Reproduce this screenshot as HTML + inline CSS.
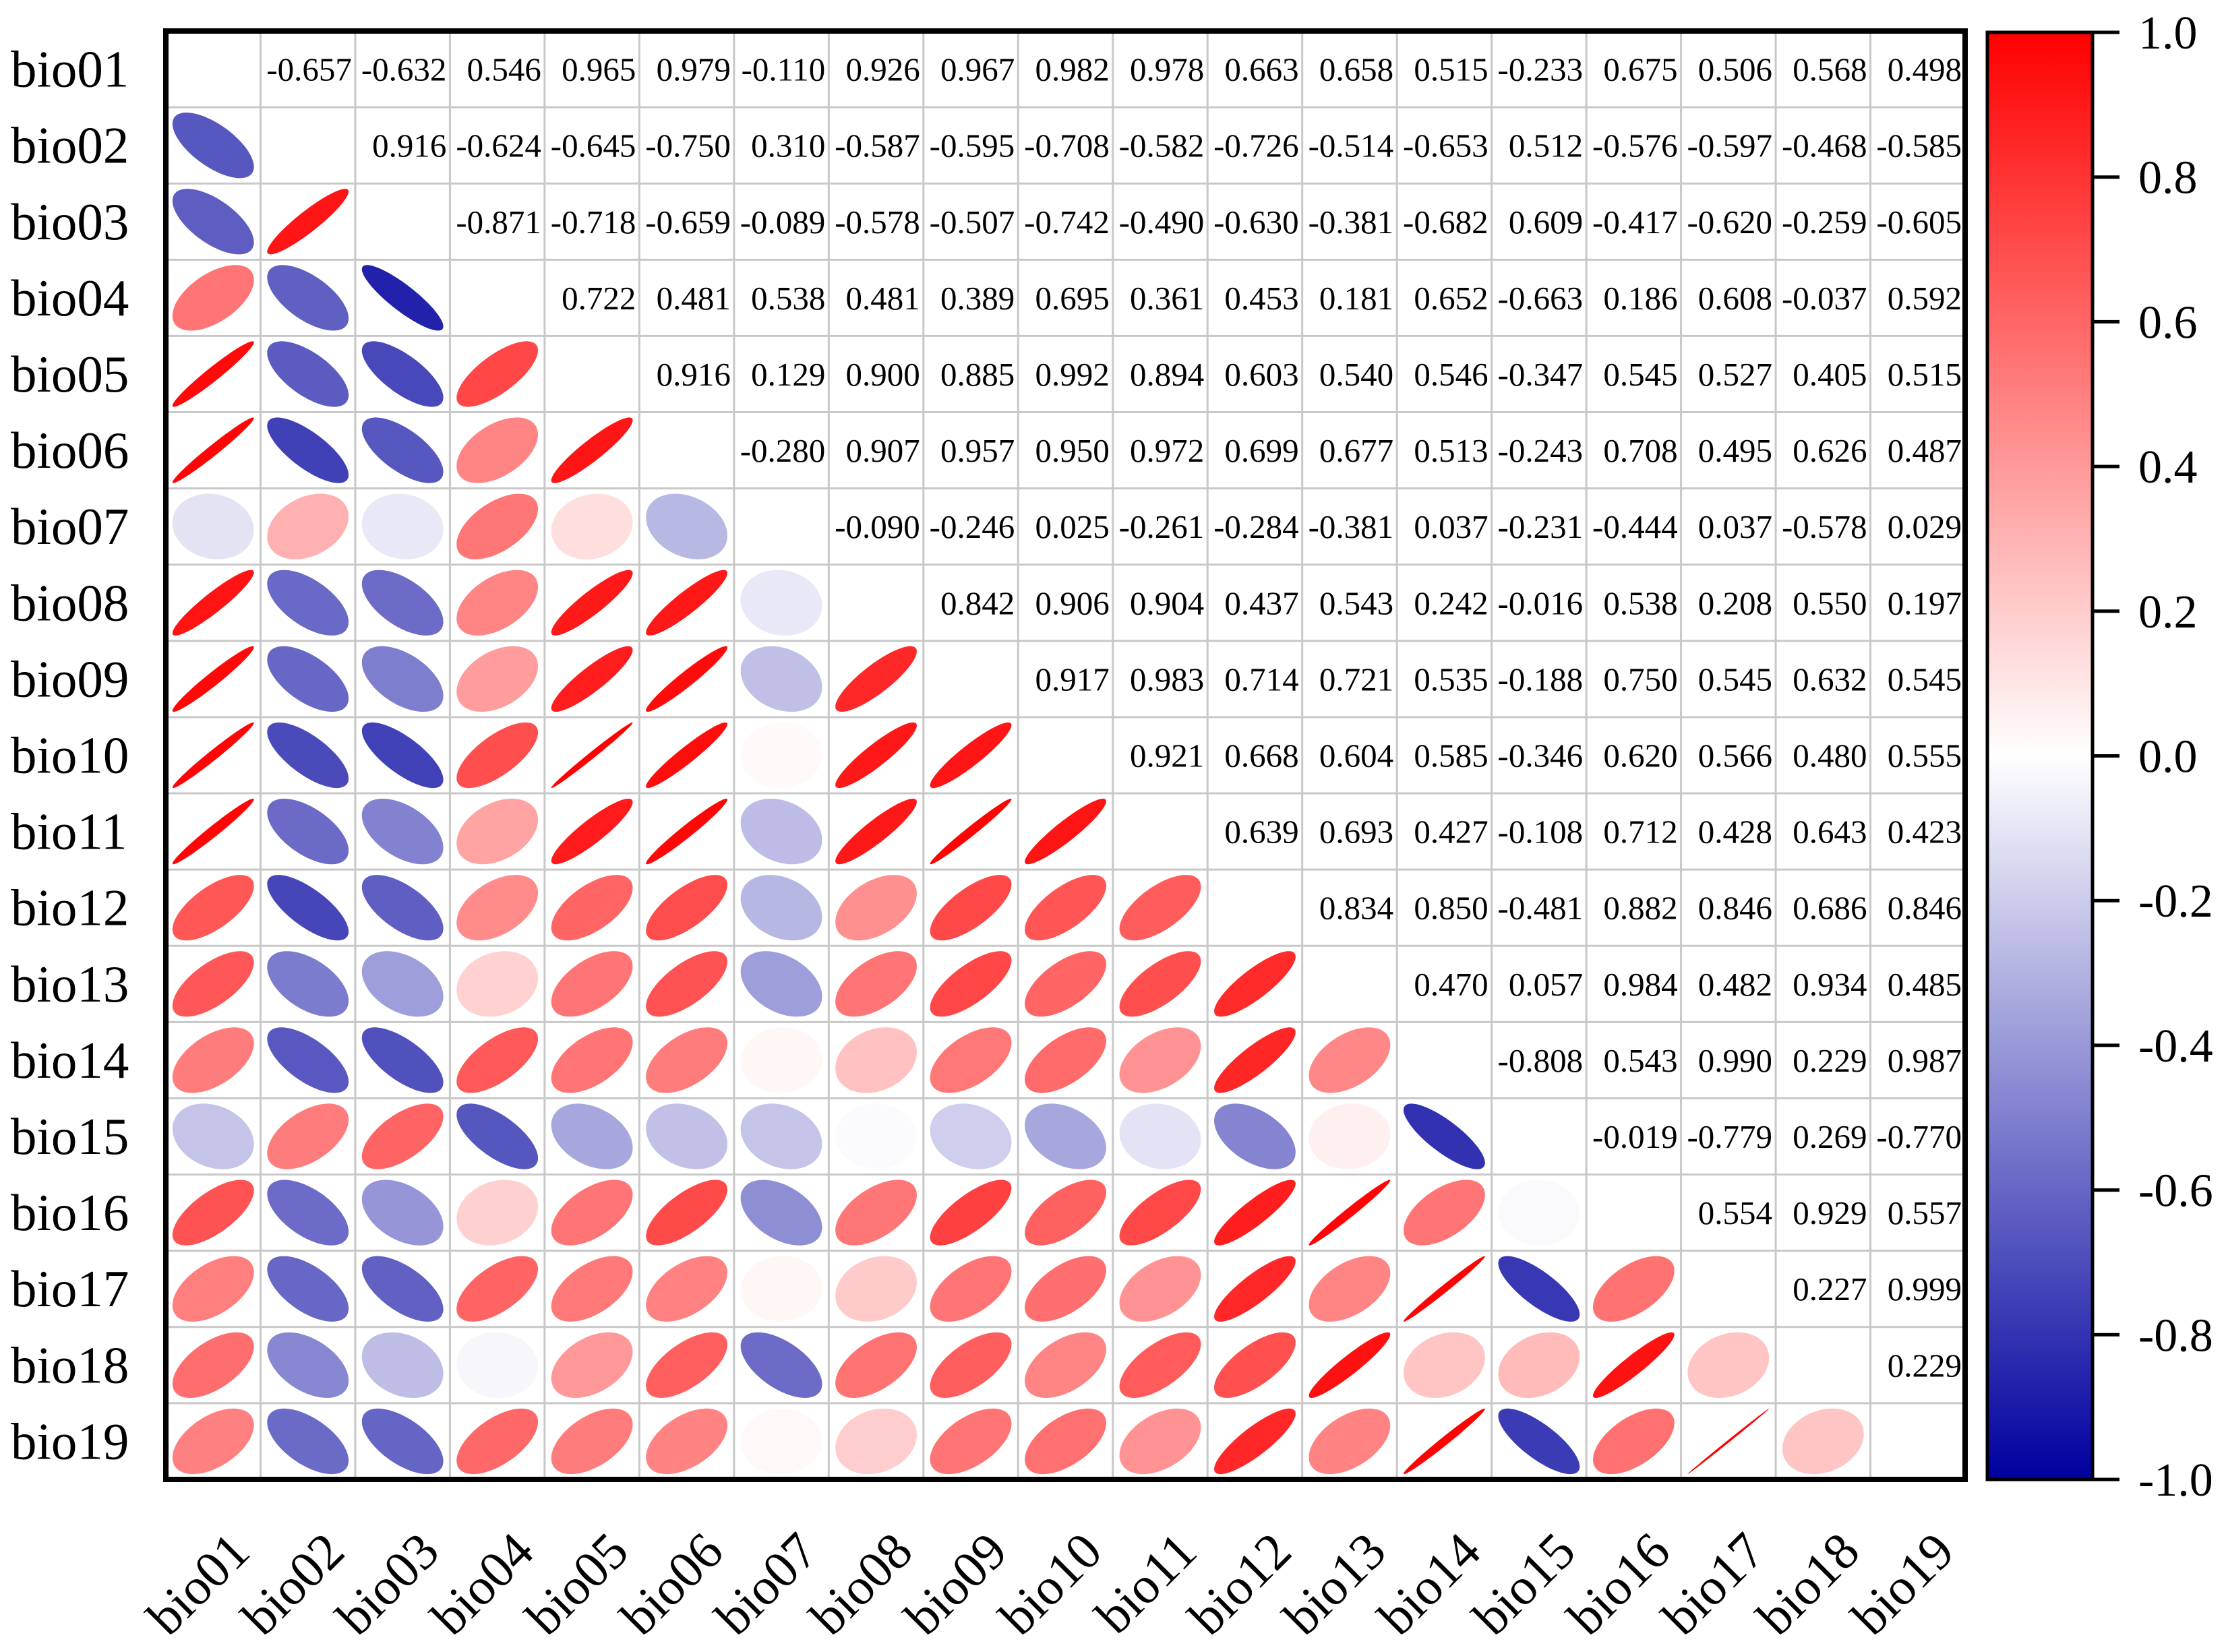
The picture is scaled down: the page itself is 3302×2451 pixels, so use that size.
<!DOCTYPE html>
<html><head><meta charset="utf-8">
<style>
html,body{margin:0;padding:0;background:#fff;}
svg{display:block;}
text{font-family:"Liberation Serif",serif;fill:#000;}
</style></head>
<body>
<svg id="chart" width="3302" height="2451" viewBox="0 0 3302 2451" xmlns="http://www.w3.org/2000/svg">
<defs>
<linearGradient id="cbgrad" x1="0" y1="0" x2="0" y2="1">
<stop offset="0" stop-color="#ff0000"/>
<stop offset="0.5" stop-color="#ffffff"/>
<stop offset="1" stop-color="#00009f"/>
</linearGradient>
</defs>
<g id="grid"></g>
<g id="marks"></g>
<g id="vals"></g>
<rect x="246" y="46" width="2669" height="2149" fill="none" stroke="#000" stroke-width="8"/>
<g id="rowlabels"></g>
<g id="collabels"></g>
<rect x="2948" y="48" width="156" height="2147" fill="url(#cbgrad)" stroke="#000" stroke-width="5"/>
<g id="cbticks"></g>
</svg>
<script>
const labels = ["bio01","bio02","bio03","bio04","bio05","bio06","bio07","bio08","bio09","bio10","bio11","bio12","bio13","bio14","bio15","bio16","bio17","bio18","bio19"];
const upper = [
[-0.657,-0.632,0.546,0.965,0.979,-0.110,0.926,0.967,0.982,0.978,0.663,0.658,0.515,-0.233,0.675,0.506,0.568,0.498],
[0.916,-0.624,-0.645,-0.750,0.310,-0.587,-0.595,-0.708,-0.582,-0.726,-0.514,-0.653,0.512,-0.576,-0.597,-0.468,-0.585],
[-0.871,-0.718,-0.659,-0.089,-0.578,-0.507,-0.742,-0.490,-0.630,-0.381,-0.682,0.609,-0.417,-0.620,-0.259,-0.605],
[0.722,0.481,0.538,0.481,0.389,0.695,0.361,0.453,0.181,0.652,-0.663,0.186,0.608,-0.037,0.592],
[0.916,0.129,0.900,0.885,0.992,0.894,0.603,0.540,0.546,-0.347,0.545,0.527,0.405,0.515],
[-0.280,0.907,0.957,0.950,0.972,0.699,0.677,0.513,-0.243,0.708,0.495,0.626,0.487],
[-0.090,-0.246,0.025,-0.261,-0.284,-0.381,0.037,-0.231,-0.444,0.037,-0.578,0.029],
[0.842,0.906,0.904,0.437,0.543,0.242,-0.016,0.538,0.208,0.550,0.197],
[0.917,0.983,0.714,0.721,0.535,-0.188,0.750,0.545,0.632,0.545],
[0.921,0.668,0.604,0.585,-0.346,0.620,0.566,0.480,0.555],
[0.639,0.693,0.427,-0.108,0.712,0.428,0.643,0.423],
[0.834,0.850,-0.481,0.882,0.846,0.686,0.846],
[0.470,0.057,0.984,0.482,0.934,0.485],
[-0.808,0.543,0.990,0.229,0.987],
[-0.019,-0.779,0.269,-0.770],
[0.554,0.929,0.557],
[0.227,0.999],
[0.229]
];
const cbTicks = [1.0,0.8,0.6,0.4,0.2,0.0,-0.2,-0.4,-0.6,-0.8,-1.0];

const NS = "http://www.w3.org/2000/svg";
const X0=246, Y0=46, W=2669, H=2149, n=labels.length;
const cw=W/n, ch=H/n;
const cx = j => X0 + (j+0.5)*cw;
const cy = i => Y0 + (i+0.5)*ch;
function r(i,j){ if(i===j) return 1; const a=Math.min(i,j), b=Math.max(i,j); return upper[a][b-a-1]; }
function color(v){
  if(v>=0){ const g=Math.round(255*(1-v)); return `rgb(255,${g},${g})`; }
  const t=-v; const g=Math.round(255*(1-t)); const b=Math.round(255-t*96); return `rgb(${g},${g},${b})`;
}
function mk(tag, attrs, parent){ const e=document.createElementNS(NS,tag); for(const k in attrs) e.setAttribute(k,attrs[k]); parent.appendChild(e); return e; }

const grid=document.getElementById('grid');
for(let k=1;k<n;k++){
  const gv=mk('line',{x1:X0+k*cw,y1:Y0,x2:X0+k*cw,y2:Y0+H,stroke:'#c8c8c8','stroke-width':3},grid);
  
  
  const gh=mk('line',{x1:X0,y1:Y0+k*ch,x2:X0+W,y2:Y0+k*ch,stroke:'#c8c8c8','stroke-width':3},grid);
  
  
}

const marks=document.getElementById('marks');
const vals=document.getElementById('vals');
const s=0.43;
for(let i=0;i<n;i++){
  for(let j=0;j<n;j++){
    if(i===j) continue;
    const v=r(i,j);
    if(i>j){
      const d=Math.acos(Math.max(-1,Math.min(1,v)));
      let pts=[];
      for(let k=0;k<120;k++){
        const t=k/120*2*Math.PI;
        const ux=s*Math.cos(t+d/2), uy=s*Math.cos(t-d/2);
        pts.push((cx(j)+ux*cw).toFixed(1)+','+(cy(i)-uy*ch).toFixed(1));
      }
      const p=mk('polygon',{points:pts.join(' '),fill:color(v)},marks);
      
      
    } else {
      const t=mk('text',{x:X0+(j+1)*cw-5,y:cy(i)+17,'font-size':49,'text-anchor':'end'},vals);
      t.textContent=v.toFixed(3);
      
      
    }
  }
}

const rl=document.getElementById('rowlabels');
const cl=document.getElementById('collabels');
labels.forEach((lab,i)=>{
  const t=mk('text',{x:16,y:cy(i)+26,'font-size':77},rl);
  t.textContent=lab;
  
  
  const x=cx(i)+58, y=2306;
  const c=mk('text',{x:x,y:y,'font-size':77,'text-anchor':'end',transform:`rotate(-45 ${x} ${y})`},cl);
  c.textContent=lab;
  
  
});

const cbt=document.getElementById('cbticks');
const cbY = v => 48 + (1-v)/2*2147;
cbTicks.forEach(v=>{
  const y=cbY(v);
  const l=mk('line',{x1:3104,y1:y,x2:3144,y2:y,stroke:'#000','stroke-width':5},cbt);
  
  
  const t=mk('text',{x:3172,y:y+24,'font-size':70},cbt);
  t.textContent=v.toFixed(1);
  
  
});
</script>
</body></html>
